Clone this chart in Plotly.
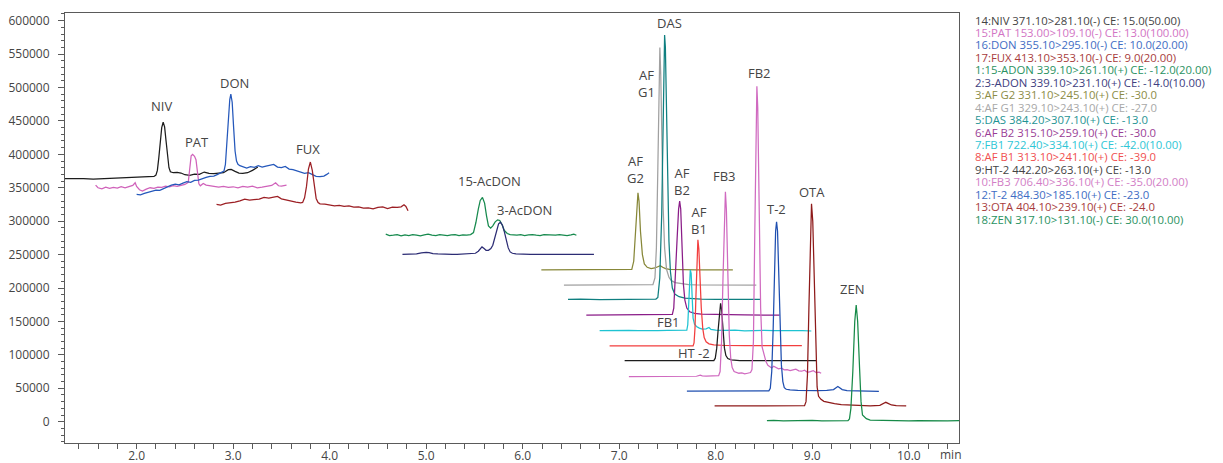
import plotly.graph_objects as go

# ---------------- data (retention time in min, intensity in counts) ----------------
NIV_T = [1.258, 1.35, 1.45, 1.55, 1.65, 1.75, 1.85, 1.95, 2.05, 2.12, 2.18, 2.20, 2.215, 2.23, 2.245, 2.26, 2.275, 2.29, 2.305, 2.32, 2.335, 2.35, 2.38, 2.42, 2.46, 2.50, 2.55, 2.60, 2.65, 2.70, 2.75, 2.80, 2.85, 2.90, 2.95, 2.98, 3.02, 3.06, 3.10, 3.15, 3.20, 3.256]
NIV_Y = [363500, 364000, 363500, 363000, 363500, 364000, 364500, 365500, 366500, 366500, 367000, 369000, 376000, 395000, 420000, 440000, 448000, 441000, 420000, 395000, 380000, 374000, 372500, 373000, 372000, 369500, 368500, 370500, 370000, 373500, 371500, 371000, 371500, 372500, 377000, 377500, 374500, 372000, 371500, 372500, 376000, 381000]

PAT_T = [1.575, 1.60, 1.64, 1.68, 1.72, 1.76, 1.80, 1.84, 1.88, 1.92, 1.96, 1.985, 2.00, 2.03, 2.06, 2.10, 2.14, 2.18, 2.22, 2.26, 2.30, 2.34, 2.38, 2.42, 2.46, 2.50, 2.535, 2.55, 2.565, 2.58, 2.60, 2.615, 2.63, 2.645, 2.66, 2.69, 2.72, 2.76, 2.80, 2.85, 2.90, 2.95, 3.00, 3.05, 3.10, 3.15, 3.20, 3.25, 3.30, 3.35, 3.40, 3.44, 3.47, 3.50, 3.553]
PAT_Y = [354000, 350000, 348500, 351000, 349000, 350500, 349500, 351500, 350000, 352000, 353500, 357500, 352000, 347000, 345000, 348000, 350000, 349000, 351000, 350500, 352500, 351500, 353000, 352000, 354000, 355000, 358000, 380000, 398000, 400000, 397000, 392000, 375000, 356000, 353000, 356500, 354000, 353000, 352500, 351000, 352000, 350500, 351500, 350000, 352000, 351000, 352500, 350000, 351000, 352000, 353500, 357500, 353000, 352500, 354000]

DON_T = [2.00, 2.04, 2.08, 2.12, 2.16, 2.20, 2.24, 2.28, 2.32, 2.36, 2.40, 2.44, 2.48, 2.52, 2.56, 2.60, 2.64, 2.68, 2.72, 2.76, 2.80, 2.84, 2.88, 2.905, 2.92, 2.935, 2.95, 2.965, 2.976, 2.99, 3.005, 3.02, 3.035, 3.05, 3.07, 3.10, 3.14, 3.18, 3.22, 3.26, 3.30, 3.34, 3.38, 3.42, 3.46, 3.50, 3.54, 3.58, 3.62, 3.66, 3.70, 3.74, 3.78, 3.82, 3.86, 3.90, 3.94, 3.97, 3.994]
DON_Y = [340000, 339500, 341500, 343000, 345000, 346500, 346000, 349000, 352000, 354000, 355500, 354500, 357000, 359000, 358000, 361000, 361500, 364000, 365500, 367000, 367500, 370000, 372500, 375000, 385000, 415000, 455000, 482000, 490000, 478000, 440000, 405000, 390000, 385000, 383000, 381000, 379500, 381500, 380500, 383000, 381000, 382500, 384000, 385000, 381000, 380000, 382000, 378000, 377000, 375500, 374000, 371500, 372500, 370000, 367000, 366500, 367500, 370000, 372500]

FUX_T = [2.828, 2.87, 2.92, 2.97, 3.02, 3.07, 3.12, 3.17, 3.22, 3.27, 3.32, 3.37, 3.42, 3.46, 3.50, 3.55, 3.60, 3.65, 3.70, 3.72, 3.74, 3.76, 3.78, 3.80, 3.82, 3.84, 3.86, 3.88, 3.90, 3.95, 4.00, 4.05, 4.10, 4.15, 4.20, 4.25, 4.30, 4.35, 4.40, 4.45, 4.50, 4.55, 4.60, 4.65, 4.70, 4.74, 4.77, 4.79, 4.812]
FUX_Y = [325000, 324000, 326500, 327000, 328500, 330500, 333000, 331500, 332500, 333000, 335500, 334500, 336000, 337000, 333500, 331500, 330500, 328500, 327500, 328000, 335000, 352000, 378000, 388500, 376000, 350000, 334000, 328000, 326000, 325500, 324500, 323000, 323500, 322000, 323000, 321000, 321500, 319500, 320000, 318500, 320500, 321500, 319000, 321000, 320500, 321500, 324500, 322000, 315500]

ADON15_T = [4.581, 4.62, 4.66, 4.70, 4.74, 4.78, 4.82, 4.86, 4.90, 4.94, 4.98, 5.02, 5.06, 5.10, 5.14, 5.18, 5.22, 5.26, 5.30, 5.34, 5.38, 5.42, 5.46, 5.49, 5.515, 5.54, 5.56, 5.583, 5.605, 5.625, 5.645, 5.668, 5.69, 5.715, 5.74, 5.762, 5.785, 5.81, 5.84, 5.87, 5.90, 5.94, 5.98, 6.02, 6.06, 6.10, 6.14, 6.18, 6.22, 6.26, 6.30, 6.34, 6.38, 6.42, 6.46, 6.50, 6.53, 6.556]
ADON15_Y = [280500, 278500, 279000, 280000, 278000, 279500, 278500, 280000, 279000, 278000, 279500, 280500, 279000, 278500, 280000, 279000, 278500, 279500, 280000, 278500, 279500, 279000, 280000, 283000, 298000, 318000, 331000, 335500, 327000, 308000, 293000, 289500, 293000, 299000, 302000, 301000, 295000, 286000, 281500, 280000, 279500, 279000, 280000, 278500, 279500, 280000, 279000, 278500, 280000, 279500, 278500, 279000, 280000, 279500, 278500, 279500, 280500, 279000]

ADON3_T = [4.754, 4.80, 4.85, 4.90, 4.95, 4.98, 5.00, 5.03, 5.07, 5.12, 5.17, 5.22, 5.27, 5.32, 5.37, 5.42, 5.47, 5.51, 5.54, 5.56, 5.578, 5.60, 5.62, 5.645, 5.67, 5.69, 5.71, 5.73, 5.75, 5.769, 5.79, 5.81, 5.83, 5.85, 5.87, 5.893, 5.93, 5.98, 6.03, 6.08, 6.13, 6.18, 6.23, 6.28, 6.33, 6.38, 6.43, 6.48, 6.53, 6.58, 6.63, 6.68, 6.738]
ADON3_Y = [250500, 250500, 250000, 251000, 252500, 253500, 253500, 253000, 251500, 251000, 250500, 251000, 250500, 250500, 251000, 250500, 251000, 252000, 255000, 259000, 261500, 259000, 256500, 256500, 259000, 264000, 274000, 287000, 296000, 298500, 294000, 284000, 270000, 260000, 254000, 252000, 251000, 250500, 251000, 250500, 250500, 251000, 250500, 250500, 251000, 250500, 250500, 250000, 250500, 250500, 250000, 250500, 250500]

AFG2_T = [6.193, 6.30, 6.40, 6.50, 6.60, 6.70, 6.80, 6.90, 7.00, 7.08, 7.13, 7.15, 7.17, 7.185, 7.194, 7.205, 7.22, 7.24, 7.26, 7.29, 7.33, 7.37, 7.40, 7.425, 7.45, 7.48, 7.52, 7.60, 7.70, 7.80, 7.90, 8.00, 8.10, 8.177]
AFG2_Y = [227000, 227000, 227000, 227000, 227000, 227000, 227000, 227000, 227000, 227000, 228000, 240000, 285000, 330000, 342500, 330000, 285000, 250000, 236000, 231000, 229000, 230000, 232500, 233500, 231000, 229000, 228000, 227500, 227000, 227000, 227000, 227000, 227000, 227000]

AFG1_T = [6.427, 6.60, 6.80, 7.00, 7.20, 7.30, 7.349, 7.37, 7.385, 7.40, 7.41, 7.421, 7.43, 7.44, 7.455, 7.47, 7.49, 7.515, 7.54, 7.58, 7.64, 7.72, 7.80, 8.00, 8.20, 8.42]
AFG1_Y = [204500, 204500, 204500, 204500, 204500, 204700, 205000, 215000, 260000, 380000, 500000, 560000, 520000, 420000, 320000, 260000, 228000, 216000, 211000, 208000, 206500, 205000, 204700, 204500, 204500, 204500]

DAS_T = [6.469, 6.60, 6.80, 7.00, 7.20, 7.30, 7.38, 7.40, 7.42, 7.44, 7.455, 7.465, 7.47, 7.478, 7.49, 7.50, 7.515, 7.53, 7.55, 7.575, 7.62, 7.68, 7.75, 7.85, 8.00, 8.15, 8.30, 8.464]
DAS_Y = [183000, 183500, 182500, 183000, 183500, 183000, 183500, 186000, 215000, 310000, 420000, 540000, 578500, 560000, 470000, 370000, 270000, 225000, 200000, 191000, 187000, 185000, 184000, 183500, 183000, 183500, 183000, 183000]

AFB2_T = [6.659, 6.80, 7.00, 7.20, 7.40, 7.50, 7.55, 7.565, 7.585, 7.60, 7.615, 7.626, 7.637, 7.652, 7.665, 7.68, 7.70, 7.73, 7.78, 7.85, 7.95, 8.10, 8.30, 8.50, 8.66]
AFB2_Y = [159600, 159600, 159600, 159800, 159800, 160000, 160500, 170000, 220000, 275000, 318000, 330000, 318000, 255000, 205000, 182000, 170000, 164500, 162000, 161000, 160500, 160000, 159800, 159600, 159600]

FB1_T = [6.797, 6.90, 7.00, 7.10, 7.20, 7.30, 7.40, 7.50, 7.60, 7.70, 7.71, 7.72, 7.73, 7.736, 7.745, 7.755, 7.765, 7.78, 7.80, 7.83, 7.86, 7.90, 7.93, 7.95, 8.00, 8.10, 8.20, 8.30, 8.40, 8.50, 8.60, 8.70, 8.80, 8.90, 8.99]
FB1_Y = [136200, 136500, 136000, 136500, 136200, 136700, 136300, 136500, 136800, 137000, 145000, 180000, 220000, 227000, 222000, 185000, 155000, 146000, 142500, 140000, 138500, 139000, 141000, 138000, 137000, 136500, 137000, 136000, 136500, 136800, 136200, 136500, 136000, 136300, 135700]

AFB1_T = [6.90, 7.00, 7.20, 7.40, 7.60, 7.70, 7.765, 7.775, 7.785, 7.795, 7.805, 7.815, 7.825, 7.835, 7.85, 7.865, 7.88, 7.90, 7.93, 7.98, 8.10, 8.30, 8.50, 8.70, 8.892]
AFB1_Y = [113300, 113300, 113300, 113300, 113300, 113300, 113500, 118000, 140000, 190000, 245000, 272000, 258000, 215000, 170000, 140000, 126000, 119500, 116500, 115000, 114000, 113700, 113700, 113700, 113700]

HT2_T = [7.056, 7.20, 7.40, 7.60, 7.80, 7.90, 7.98, 7.995, 8.01, 8.025, 8.04, 8.05, 8.06, 8.075, 8.09, 8.105, 8.125, 8.16, 8.25, 8.40, 8.60, 8.80, 9.047]
HT2_Y = [91300, 91300, 91300, 91300, 91300, 91300, 91500, 95000, 110000, 138000, 168000, 177000, 168000, 132000, 110000, 99000, 94500, 92500, 91500, 91300, 91300, 91300, 91300]

FB_T = [7.10, 7.20, 7.30, 7.40, 7.50, 7.60, 7.70, 7.80, 7.84, 7.86, 7.90, 7.95, 8.00, 8.03, 8.045, 8.06, 8.075, 8.09, 8.10, 8.11, 8.125, 8.14, 8.155, 8.17, 8.19, 8.21, 8.24, 8.27, 8.30, 8.33, 8.36, 8.375, 8.39, 8.405, 8.418, 8.426, 8.435, 8.45, 8.465, 8.48, 8.49, 8.505, 8.52, 8.54, 8.56, 8.58, 8.60, 8.62, 8.65, 8.68, 8.71, 8.74, 8.77, 8.80, 8.83, 8.86, 8.89, 8.92, 8.95, 8.98, 9.01, 9.04, 9.07, 9.092]
FB_Y = [67300, 67300, 67500, 67500, 67800, 67800, 68000, 68000, 69500, 68500, 68200, 68300, 68500, 68800, 75000, 120000, 215000, 315000, 344000, 318000, 220000, 130000, 95000, 81000, 75000, 73500, 72500, 73000, 71500, 72500, 73500, 78000, 120000, 290000, 450000, 502000, 470000, 330000, 170000, 112000, 107000, 98000, 90000, 84500, 82000, 80500, 83000, 81500, 79000, 80000, 77500, 78000, 76500, 77500, 78500, 76000, 75500, 77000, 74000, 75000, 76500, 73500, 74000, 72500]

T2_T = [7.701, 7.80, 7.90, 8.00, 8.10, 8.20, 8.30, 8.40, 8.50, 8.55, 8.565, 8.58, 8.595, 8.61, 8.62, 8.63, 8.64, 8.65, 8.665, 8.68, 8.695, 8.71, 8.73, 8.77, 8.85, 8.95, 9.05, 9.15, 9.22, 9.25, 9.265, 9.28, 9.31, 9.36, 9.45, 9.55, 9.69]
T2_Y = [45900, 45900, 46000, 45900, 46000, 45900, 46000, 46000, 46100, 46200, 50000, 75000, 140000, 235000, 285000, 299000, 285000, 235000, 150000, 85000, 60000, 51000, 48500, 47500, 47000, 46500, 46500, 47000, 48000, 51000, 52500, 51000, 48000, 46500, 46000, 46000, 45500]

OTA_T = [7.988, 8.10, 8.20, 8.30, 8.40, 8.50, 8.60, 8.70, 8.80, 8.92, 8.935, 8.95, 8.965, 8.98, 8.992, 9.005, 9.02, 9.035, 9.05, 9.065, 9.09, 9.12, 9.17, 9.23, 9.30, 9.40, 9.50, 9.60, 9.70, 9.74, 9.762, 9.785, 9.82, 9.87, 9.92, 9.973]
OTA_Y = [23500, 23800, 23500, 23600, 23500, 23700, 23500, 23600, 23700, 24000, 30000, 70000, 170000, 290000, 326000, 300000, 210000, 110000, 52000, 38000, 33500, 30500, 28500, 27000, 25500, 24500, 24000, 23500, 24500, 27500, 29000, 27500, 25000, 24000, 23500, 23500]

ZEN_T = [8.53, 8.60, 8.70, 8.80, 8.90, 9.00, 9.10, 9.20, 9.30, 9.37, 9.385, 9.40, 9.42, 9.44, 9.455, 9.47, 9.49, 9.505, 9.52, 9.54, 9.56, 9.60, 9.70, 9.80, 9.90, 10.00, 10.10, 10.20, 10.30, 10.40, 10.52]
ZEN_Y = [1500, 2000, 1200, 1800, 1400, 1900, 1300, 1700, 1500, 1600, 4000, 20000, 75000, 150000, 174500, 150000, 80000, 30000, 10000, 6500, 4500, 2500, 2000, 1500, 1800, 1300, 1600, 1200, 1500, 1400, 1500]

SERIES = {
    "NIV": (NIV_T, NIV_Y), "PAT": (PAT_T, PAT_Y), "DON": (DON_T, DON_Y), "FUX": (FUX_T, FUX_Y),
    "15-ADON": (ADON15_T, ADON15_Y), "3-ADON": (ADON3_T, ADON3_Y),
    "AF G2": (AFG2_T, AFG2_Y), "AF G1": (AFG1_T, AFG1_Y), "DAS": (DAS_T, DAS_Y),
    "AF B2": (AFB2_T, AFB2_Y), "FB1": (FB1_T, FB1_Y), "AF B1": (AFB1_T, AFB1_Y),
    "HT-2": (HT2_T, HT2_Y), "FB3/FB2": (FB_T, FB_Y), "T-2": (T2_T, T2_Y),
    "OTA": (OTA_T, OTA_Y), "ZEN": (ZEN_T, ZEN_Y),
}

LEGEND_TEXT = [
    "14:NIV 371.10>281.10(-) CE: 15.0(50.00)",
    "15:PAT 153.00>109.10(-) CE: 13.0(100.00)",
    "16:DON 355.10>295.10(-) CE: 10.0(20.00)",
    "17:FUX 413.10>353.10(-) CE: 9.0(20.00)",
    "1:15-ADON 339.10>261.10(+) CE: -12.0(20.00)",
    "2:3-ADON 339.10>231.10(+) CE: -14.0(10.00)",
    "3:AF G2 331.10>245.10(+) CE: -30.0",
    "4:AF G1 329.10>243.10(+) CE: -27.0",
    "5:DAS 384.20>307.10(+) CE: -13.0",
    "6:AF B2 315.10>259.10(+) CE: -30.0",
    "7:FB1 722.40>334.10(+) CE: -42.0(10.00)",
    "8:AF B1 313.10>241.10(+) CE: -39.0",
    "9:HT-2 442.20>263.10(+) CE: -13.0",
    "10:FB3 706.40>336.10(+) CE: -35.0(20.00)",
    "12:T-2 484.30>185.10(+) CE: -23.0",
    "13:OTA 404.10>239.10(+) CE: -24.0",
    "18:ZEN 317.10>131.10(-) CE: 30.0(10.00)",
]

# peak labels: text, series, search window (min) -> placed at the apex of that window
PEAK_LABELS = [
    ("NIV", "NIV", 2.1, 2.4), ("PAT", "PAT", 2.5, 2.7), ("DON", "DON", 2.9, 3.1),
    ("FUX", "FUX", 3.7, 3.9), ("15-AcDON", "15-ADON", 5.5, 5.65), ("3-AcDON", "3-ADON", 5.7, 5.85),
    ("AF<br>G2", "AF G2", 7.1, 7.3), ("AF<br>G1", "AF G1", 7.3, 7.5), ("DAS", "DAS", 7.4, 7.55),
    ("AF<br>B2", "AF B2", 7.55, 7.7), ("AF<br>B1", "AF B1", 7.75, 7.9), ("FB3", "FB3/FB2", 8.0, 8.2),
    ("FB2", "FB3/FB2", 8.35, 8.5), ("FB1", "FB1", 7.7, 7.8), ("HT -2", "HT-2", 8.0, 8.1),
    ("T-2", "T-2", 8.55, 8.7), ("OTA", "OTA", 8.9, 9.1), ("ZEN", "ZEN", 9.4, 9.5),
]

# ---------------- styles ----------------
LINE_COLORS = {
    "NIV": "#1c1c1c", "PAT": "#d062ba", "DON": "#2558bb", "FUX": "#9c1f24",
    "15-ADON": "#178a4e", "3-ADON": "#2c2c74", "AF G2": "#878738", "AF G1": "#a0a0a0",
    "DAS": "#0f7f80", "AF B2": "#8a1c88", "FB1": "#1ec3d2", "AF B1": "#f23e3e",
    "HT-2": "#1c1c1c", "FB3/FB2": "#d06ac0", "T-2": "#1f4fb0", "OTA": "#8e1a1a", "ZEN": "#168a48",
}
LEGEND_COLORS = ["#444444", "#d274c4", "#3f6dc4", "#a83c3c", "#2a9262", "#404080", "#8c8c46",
                 "#a8a8a8", "#1f9494", "#9a3e96", "#2ec6d6", "#f04f4f", "#444444", "#d27ec6",
                 "#3f6dc4", "#a83c3c", "#2a9262"]
LABEL_SHIFT = {  # pixel offsets of label centre from apex
    "NIV": (-2, 16), "PAT": (4, 12), "DON": (4, 11), "FUX": (-2, 13), "15-AcDON": (7, 16),
    "3-AcDON": (24, 12), "AF<br>G2": (-2, 23), "AF<br>G1": (-13, -36), "DAS": (5, 12),
    "AF<br>B2": (2, 20), "AF<br>B1": (1, 19), "FB3": (-1, 16), "FB2": (3, 13),
    "FB1": (-22, -52), "HT -2": (-27, -50), "T-2": (0, 13), "OTA": (0, 12), "ZEN": (-4, 16),
}

FONT = "Open Sans, Noto Sans, sans-serif"
OFF = 8                      # default page margin around the plot div
W, H = 1223 - OFF, 463 - OFF
ML, MT = 65 - OFF, 13 - OFF
PW, PH = 894, 430
MR, MB = W - ML - PW, H - MT - PH

fig = go.Figure()
for name, (t, y) in SERIES.items():
    fig.add_trace(go.Scatter(x=t, y=y, mode="lines", name=name, hoverinfo="skip",
                             line=dict(color=LINE_COLORS[name], width=1.25), showlegend=False))

annotations = []
for text, key, lo, hi in PEAK_LABELS:
    t, y = SERIES[key]
    pts = [(tt, yy) for tt, yy in zip(t, y) if lo <= tt <= hi]
    at, ay = max(pts, key=lambda p: p[1])
    xs, ys = LABEL_SHIFT[text]
    annotations.append(dict(x=at, y=ay, xref="x", yref="y", text=text, showarrow=False,
                            xanchor="center", yanchor="middle", xshift=xs, yshift=ys,
                            font=dict(family=FONT, size=13, color="#454545")))


def px_to_paper(xp, yp):
    """page pixel -> paper coordinates of the plot area"""
    return (xp - OFF - ML) / PW, (H - MB - (yp - OFF)) / PH


for i, (txt, col) in enumerate(zip(LEGEND_TEXT, LEGEND_COLORS)):
    px, py = px_to_paper(974, 20 + 12.45 * i)
    annotations.append(dict(x=px, y=py, xref="paper", yref="paper",
                            text=txt, showarrow=False, xanchor="left", yanchor="middle",
                            borderpad=0, font=dict(family=FONT, size=11.35, color=col)))

px, py = px_to_paper(951, 455)
annotations.append(dict(x=px, y=py, xref="paper", yref="paper",
                        text="min", showarrow=False, xanchor="center", yanchor="middle",
                        font=dict(family=FONT, size=12, color="#454545")))

fig.update_layout(
    width=W, height=H, margin=dict(l=ML, r=MR, t=MT, b=MB, pad=0, autoexpand=False),
    paper_bgcolor="white", plot_bgcolor="white",
    font=dict(family=FONT, size=12, color="#454545"),
    annotations=annotations,
    xaxis=dict(range=[1.258, 10.52], showgrid=False, zeroline=False, showline=True, automargin=False,
               linecolor="#5a5a5a", linewidth=1, mirror=True, ticks="outside", ticklen=5,
               tickcolor="#5a5a5a", dtick=1, tick0=0, tickformat=".1f", ticklabelstandoff=-3,
               minor=dict(dtick=0.2, tick0=0, ticks="outside", ticklen=5, tickcolor="#5a5a5a"),
               tickfont=dict(size=12, color="#454545")),
    yaxis=dict(range=[-31870, 611460], showgrid=False, zeroline=False, showline=True, automargin=False,
               linecolor="#5a5a5a", linewidth=1, mirror=True, ticks="outside", ticklen=6,
               tickcolor="#5a5a5a", dtick=50000, tick0=0, tickformat="d",
               ticklabelstandoff=6,
               minor=dict(dtick=10000, tick0=0, ticks="outside", ticklen=3, tickcolor="#5a5a5a"),
               tickfont=dict(size=12, color="#454545")),
)

fig.write_html("out.html")
